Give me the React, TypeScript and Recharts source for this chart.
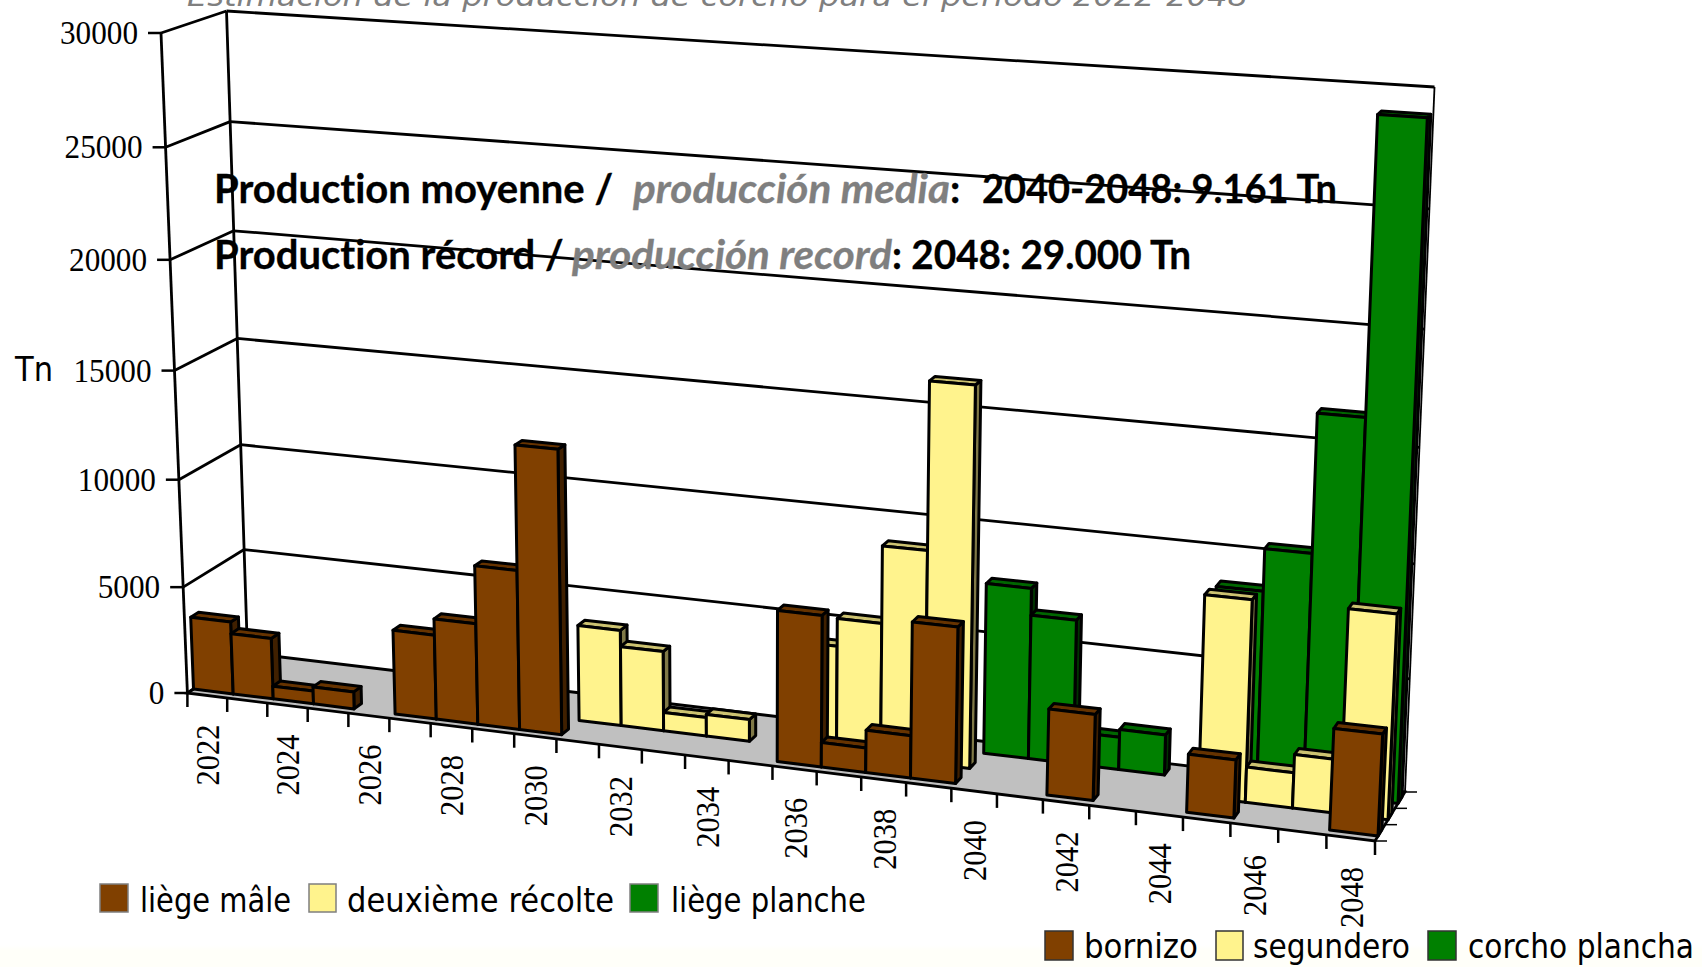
import React from 'react';
import { BarChart, Bar, XAxis, YAxis, CartesianGrid } from 'recharts';

const years = [2022, 2023, 2024, 2025, 2026, 2027, 2028, 2029, 2030, 2031, 2032, 2033, 2034, 2035, 2036, 2037, 2038, 2039, 2040, 2041, 2042, 2043, 2044, 2045, 2046, 2047, 2048];
const bornizo = [3400, 2850, 600, 800, 0, 3900, 4650, 7300, 12950, 0, 0, 0, 0, 0, 6800, 1100, 1900, 6950, 0, 0, 3800, 0, 0, 2550, 0, 0, 4400];
const segundero = [0, 0, 0, 0, 0, 0, 0, 0, 0, 4400, 3650, 850, 1000, 0, 4800, 6050, 9500, 16900, 0, 0, 0, 0, 0, 8850, 1550, 2350, 8900];
const plancha = [0, 0, 0, 0, 0, 0, 0, 0, 0, 0, 0, 0, 0, 0, 0, 0, 0, 0, 7650, 6450, 1450, 1800, 0, 8600, 10450, 16450, 29000];
const valueTicks = [0, 5000, 10000, 15000, 20000, 25000, 30000];

const legendFr = ['liège mâle', 'deuxième récolte', 'liège planche'];
const legendEs = ['bornizo', 'segundero', 'corcho plancha'];

const data = years.map((year, i) => ({ year, bornizo: bornizo[i], segundero: segundero[i], plancha: plancha[i] }));

const W = 1702;
const H = 967;
// the axes need one pixel each or they are not drawn
const PLOT_W = W - 1;
const PLOT_H = H - 1;

type Pt = [number, number];

// corners of the 3D box on screen: front plane and back plane
const front: Pt[] = [[187.4, 693], [1375, 841], [1408, 113], [161, 33]];
const back: Pt[] = [[247.5, 653], [1405, 792], [1434.5, 87], [226.5, 11]];

// u along years, v along values, w depth (0 front, 1 back)
function project(u: number, v: number, w: number): Pt {
  const q = front.map((f, i) => [f[0] + (back[i][0] - f[0]) * w, f[1] + (back[i][1] - f[1]) * w]);
  const [x0, y0] = q[0];
  const [x1, y1] = q[1];
  const [x2, y2] = q[2];
  const [x3, y3] = q[3];
  const dx1 = x1 - x2, dx2 = x3 - x2, sx = x0 - x1 + x2 - x3;
  const dy1 = y1 - y2, dy2 = y3 - y2, sy = y0 - y1 + y2 - y3;
  const den = dx1 * dy2 - dx2 * dy1;
  const g = (sx * dy2 - dx2 * sy) / den;
  const h = (dx1 * sy - sx * dy1) / den;
  const a = x1 - x0 + g * x1, b = x3 - x0 + h * x3;
  const d = y1 - y0 + g * y1, e = y3 - y0 + h * y3;
  const t = g * u + h * v + 1;
  return [(a * u + b * v + x0) / t, (d * u + e * v + y0) / t];
}

const pts = (list: Pt[]) => list.map((p) => `${p[0].toFixed(1)},${p[1].toFixed(1)}`).join(' ');
const toU = (x: number) => (x - 1) / PLOT_W;
const toV = (y: number) => 1 - y / PLOT_H;

const Seg = ({ a, b, width = 2.8 }: { a: Pt; b: Pt; width?: number }) => (
  <line x1={a[0]} y1={a[1]} x2={b[0]} y2={b[1]} stroke="#000" strokeWidth={width} />
);

const depthOf = (row: number) => (row + 0.5) / 3;
const halfDepth = 0.065;

const bar3d = (row: number, fill: string, top: string, side: string) => (props: any) => {
  const { x, y, width, height } = props;
  if (!height || height <= 0) return <g />;
  const u0 = toU(x);
  const u1 = toU(x + width);
  const v0 = toV(y + height);
  const v1 = toV(y);
  const wf = depthOf(row) - halfDepth;
  const wb = depthOf(row) + halfDepth;
  const faceProps = { stroke: '#000', strokeWidth: 3, strokeLinejoin: 'round' as const };
  return (
    <g>
      <polygon points={pts([project(u1, v0, wf), project(u1, v0, wb), project(u1, v1, wb), project(u1, v1, wf)])} fill={side} {...faceProps} />
      <polygon points={pts([project(u0, v1, wf), project(u1, v1, wf), project(u1, v1, wb), project(u0, v1, wb)])} fill={top} {...faceProps} />
      <polygon points={pts([project(u0, v0, wf), project(u1, v0, wf), project(u1, v1, wf), project(u0, v1, wf)])} fill={fill} {...faceProps} />
    </g>
  );
};

const GridLine = (props: any) => {
  const v = toV(props.y1);
  const isFloor = Math.abs(v) < 1e-6;
  return (
    <g>
      {isFloor && (
        <polygon points={pts([project(0, 0, 0), project(1, 0, 0), project(1, 0, 1), project(0, 0, 1)])} fill="#c0c0c0" stroke="#000" strokeWidth={2.8} />
      )}
      {!isFloor && <Seg a={project(0, v, 1)} b={project(1, v, 1)} />}
      <Seg a={project(0, v, 0)} b={project(0, v, 1)} />
    </g>
  );
};

const WallEdge = (props: any) => {
  const u = toU(props.x1);
  return (
    <g>
      {u < 0.5 && <Seg a={project(0, 0, 0)} b={project(0, 1, 0)} />}
      <Seg a={project(u, 0, 1)} b={project(u, 1, 1)} width={u < 0.5 ? 2.8 : 1.8} />
    </g>
  );
};

const DEPTH_TICKS = [0, 1 / 3, 2 / 3, 1];

const YearTick = (props: any) => {
  const { index, payload } = props;
  const slot = 1 / years.length;
  const u0 = index * slot;
  const a = project(u0, 0, 0);
  const mid = project(u0 + slot / 2, 0, 0);
  const end = project(1, 0, 0);
  return (
    <g>
      <line x1={a[0]} y1={a[1]} x2={a[0]} y2={a[1] + 14} stroke="#000" strokeWidth={2.5} />
      {index % 2 === 0 && (
        <text
          transform={`translate(${mid[0] + 12}, ${mid[1] + 29}) rotate(-90)`}
          textAnchor="end"
          fontFamily="'Liberation Serif'"
          fontSize={33}
          textLength={61}
          lengthAdjust="spacingAndGlyphs"
          fill="#000"
        >
          {payload.value}
        </text>
      )}
      {index === years.length - 1 && (
        <>
          <line x1={end[0]} y1={end[1]} x2={end[0]} y2={end[1] + 14} stroke="#000" strokeWidth={2.5} />
          {DEPTH_TICKS.map((w) => {
            const p = project(1, 0, w);
            return <line key={w} x1={p[0]} y1={p[1]} x2={p[0] + 12} y2={p[1]} stroke="#000" strokeWidth={1.5} />;
          })}
        </>
      )}
    </g>
  );
};

const ValueTick = (props: any) => {
  const v = toV(props.y);
  const p = project(0, v, 0);
  const label = String(props.payload.value);
  return (
    <g>
      <line x1={p[0] - 13} y1={p[1]} x2={p[0]} y2={p[1]} stroke="#000" strokeWidth={2.5} />
      <text
        x={p[0] - 23}
        y={p[1] + 11}
        textAnchor="end"
        fontFamily="'Liberation Serif'"
        fontSize={33}
        textLength={label.length * 15.6}
        lengthAdjust="spacingAndGlyphs"
        fill="#000"
      >
        {label}
      </text>
    </g>
  );
};

const Swatch = ({ x, y, w, h, fill, stroke }: any) => <rect x={x} y={y} width={w} height={h} fill={fill} stroke={stroke} strokeWidth={1.5} />;

const LegendText = ({ x, y, len, children }: any) => (
  <text x={x} y={y} fontFamily="'DejaVu Sans'" fontSize={34} textLength={len} lengthAdjust="spacingAndGlyphs" fill="#000">
    {children}
  </text>
);

const noteProps = {
  fontFamily: 'Lato',
  fontWeight: 700,
  fontSize: 40,
  fill: '#000',
  stroke: '#000',
  strokeWidth: 0.3,
  style: { fontVariantLigatures: 'none' },
};
const grayProps = { fill: '#7f7f7f', stroke: '#7f7f7f', fontStyle: 'italic' };

const Overlay = () => (
  <svg width={W} height={H} style={{ position: 'absolute', left: 0, top: 0 }}>
    <text x={187} y={6} fontFamily="'DejaVu Sans'" fontStyle="italic" fontSize={28} fill="#7f7f7f" textLength={1061} lengthAdjust="spacingAndGlyphs">
      Estimación de la producción de corcho para el período 2022-2048
    </text>
    <text x={214} y={203} {...noteProps}>
      Production moyenne /
      <tspan x={633} textLength={317} lengthAdjust="spacingAndGlyphs" {...grayProps}>producción media</tspan>
      <tspan x={950}>:</tspan>
      <tspan x={982} textLength={355} lengthAdjust="spacingAndGlyphs">2040-2048: 9.161 Tn</tspan>
    </text>
    <text x={214} y={269} {...noteProps}>
      Production récord /
      <tspan x={572} textLength={320} lengthAdjust="spacingAndGlyphs" {...grayProps}>producción record</tspan>
      <tspan x={892} textLength={299} lengthAdjust="spacingAndGlyphs">: 2048: 29.000 Tn</tspan>
    </text>
    <LegendText x={15} y={381} len={38}>Tn</LegendText>

    <Swatch x={100} y={884} w={28} h={28} fill="#804000" stroke="#7f7f7f" />
    <LegendText x={140} y={912} len={151}>{legendFr[0]}</LegendText>
    <Swatch x={309} y={884} w={27} h={28} fill="#fff38d" stroke="#7f7f7f" />
    <LegendText x={347} y={912} len={267}>{legendFr[1]}</LegendText>
    <Swatch x={630} y={884} w={28} h={28} fill="#008000" stroke="#7f7f7f" />
    <LegendText x={671} y={912} len={195}>{legendFr[2]}</LegendText>

    <Swatch x={1045} y={931} w={28} h={29} fill="#804000" stroke="#333" />
    <LegendText x={1084} y={958} len={114}>{legendEs[0]}</LegendText>
    <Swatch x={1216} y={931} w={27} h={29} fill="#fff38d" stroke="#333" />
    <LegendText x={1253} y={958} len={157}>{legendEs[1]}</LegendText>
    <Swatch x={1428} y={931} w={28} h={29} fill="#008000" stroke="#333" />
    <LegendText x={1468} y={958} len={226}>{legendEs[2]}</LegendText>
  </svg>
);

export default function App() {
  return (
    <div style={{ position: 'absolute', left: 0, top: 0, width: W, height: H, background: 'linear-gradient(#fff 0, #fff 945px, #fffff9 950px)', overflow: 'hidden' }}>
      <BarChart width={W} height={H} data={data} margin={{ top: 0, right: 0, bottom: 0, left: 0 }} barCategoryGap={0} barGap={0}>
        <CartesianGrid horizontal={GridLine} vertical={WallEdge} verticalPoints={[1, W]} />
        <XAxis xAxisId="a" dataKey="year" height={1} interval={0} axisLine={false} tickLine={false} tick={YearTick} />
        <XAxis xAxisId="b" dataKey="year" hide />
        <XAxis xAxisId="c" dataKey="year" hide />
        <YAxis width={1} domain={[0, 30000]} ticks={valueTicks} interval={0} axisLine={false} tickLine={false} tick={ValueTick} />
        <Bar xAxisId="b" dataKey="plancha" isAnimationActive={false} shape={bar3d(2, '#008000', '#006600', '#003300')} />
        <Bar xAxisId="c" dataKey="segundero" isAnimationActive={false} shape={bar3d(1, '#fff38d', '#ccc271', '#807947')} />
        <Bar xAxisId="a" dataKey="bornizo" isAnimationActive={false} shape={bar3d(0, '#804000', '#663300', '#402000')} />
      </BarChart>
      <Overlay />
    </div>
  );
}
